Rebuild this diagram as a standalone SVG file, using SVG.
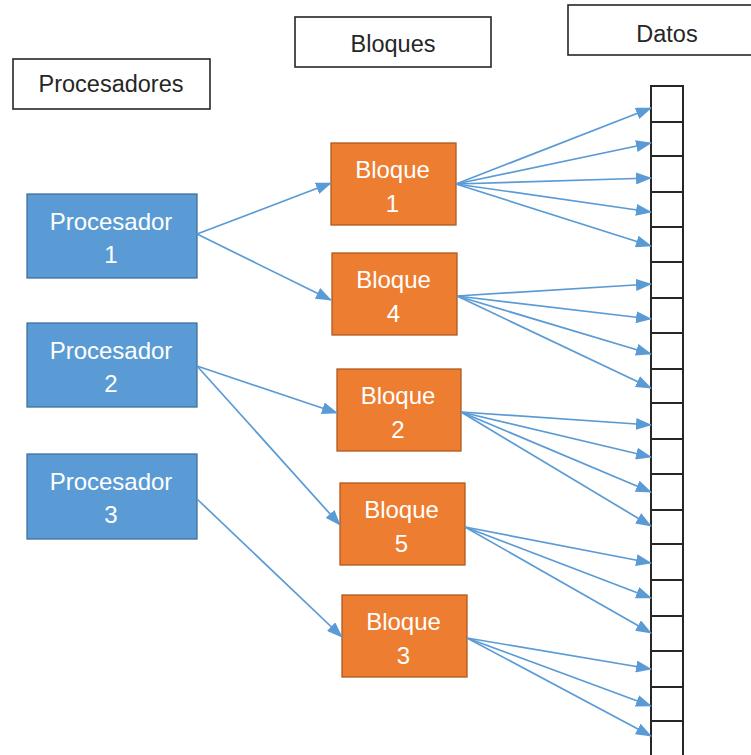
<svg xmlns="http://www.w3.org/2000/svg" width="751" height="755" viewBox="0 0 751 755">
<defs>
<style>
.hdr{fill:#fff;stroke:#262626;stroke-width:1.6}
.ht{font-family:"Liberation Sans",Arial,sans-serif;font-size:23.5px;fill:#262626;text-anchor:middle}
.proc{fill:#5B9BD5;stroke:#41719C;stroke-width:1.3}
.blk{fill:#ED7D31;stroke:#AE5A21;stroke-width:1.3}
.nt{font-family:"Liberation Sans",Arial,sans-serif;font-size:24px;fill:#fff;text-anchor:middle}
.c{stroke:#5B9BD5;stroke-width:1.7;fill:none;marker-end:url(#ah)}
.col{fill:#fff;stroke:#262626;stroke-width:2}
.cl{stroke:#262626;stroke-width:2}
</style>
<marker id="ah" viewBox="0 0 16 12" refX="15" refY="6" markerWidth="16" markerHeight="12" markerUnits="userSpaceOnUse" orient="auto">
<path d="M0,0 L16,6 L0,12 z" fill="#5B9BD5"/>
</marker>
</defs>

<g id="hdr-procesadores"><rect class="hdr" x="13" y="59" width="197" height="50"/><text class="ht" x="111" y="92">Procesadores</text></g>
<g id="hdr-bloques"><rect class="hdr" x="295" y="17" width="196" height="50"/><text class="ht" x="393" y="52">Bloques</text></g>
<g id="hdr-datos"><rect class="hdr" x="568" y="5" width="200" height="50"/><text class="ht" x="667" y="42">Datos</text></g>

<g id="datos">
<rect class="col" x="651" y="86" width="32" height="680"/>
<g class="cl">
<line x1="651" x2="683" y1="122" y2="122"/><line x1="651" x2="683" y1="156" y2="156"/>
<line x1="651" x2="683" y1="192" y2="192"/><line x1="651" x2="683" y1="227" y2="227"/>
<line x1="651" x2="683" y1="262" y2="262"/><line x1="651" x2="683" y1="298" y2="298"/>
<line x1="651" x2="683" y1="333" y2="333"/><line x1="651" x2="683" y1="369" y2="369"/>
<line x1="651" x2="683" y1="403" y2="403"/><line x1="651" x2="683" y1="439" y2="439"/>
<line x1="651" x2="683" y1="474" y2="474"/><line x1="651" x2="683" y1="510" y2="510"/>
<line x1="651" x2="683" y1="544" y2="544"/><line x1="651" x2="683" y1="580" y2="580"/>
<line x1="651" x2="683" y1="616" y2="616"/><line x1="651" x2="683" y1="651" y2="651"/>
<line x1="651" x2="683" y1="687" y2="687"/><line x1="651" x2="683" y1="721" y2="721"/>
</g>
</g>

<g id="procesador1"><rect class="proc" x="27" y="194" width="170" height="84"/><text class="nt" x="111" y="230">Procesador</text><text class="nt" x="111" y="263">1</text></g>
<g id="procesador2"><rect class="proc" x="27" y="323" width="170" height="84"/><text class="nt" x="111" y="359">Procesador</text><text class="nt" x="111" y="392">2</text></g>
<g id="procesador3"><rect class="proc" x="27" y="454" width="170" height="85"/><text class="nt" x="111" y="490">Procesador</text><text class="nt" x="111" y="523">3</text></g>

<g id="bloque1"><rect class="blk" x="331" y="143" width="125" height="82"/><text class="nt" x="392.5" y="178">Bloque</text><text class="nt" x="392.5" y="212">1</text></g>
<g id="bloque4"><rect class="blk" x="332" y="253" width="125" height="82"/><text class="nt" x="393.5" y="288">Bloque</text><text class="nt" x="393.5" y="322">4</text></g>
<g id="bloque2"><rect class="blk" x="337" y="369" width="124" height="82"/><text class="nt" x="398" y="404">Bloque</text><text class="nt" x="398" y="438">2</text></g>
<g id="bloque5"><rect class="blk" x="340" y="483" width="125" height="82"/><text class="nt" x="401.5" y="518">Bloque</text><text class="nt" x="401.5" y="552">5</text></g>
<g id="bloque3"><rect class="blk" x="342" y="595" width="125" height="82"/><text class="nt" x="403.5" y="630">Bloque</text><text class="nt" x="403.5" y="664">3</text></g>

<g id="connectors">
<line class="c" x1="197" y1="234" x2="331" y2="183"/>
<line class="c" x1="197" y1="234" x2="331" y2="300"/>
<line class="c" x1="197" y1="366" x2="337" y2="413"/>
<line class="c" x1="197" y1="366" x2="340" y2="525"/>
<line class="c" x1="197" y1="499" x2="342" y2="637"/>

<line class="c" x1="456" y1="184" x2="651" y2="108"/>
<line class="c" x1="456" y1="184" x2="651" y2="143"/>
<line class="c" x1="456" y1="184" x2="651" y2="178"/>
<line class="c" x1="456" y1="184" x2="651" y2="212"/>
<line class="c" x1="456" y1="184" x2="651" y2="246"/>

<line class="c" x1="457" y1="296" x2="651" y2="284"/>
<line class="c" x1="457" y1="296" x2="651" y2="319"/>
<line class="c" x1="457" y1="296" x2="651" y2="354"/>
<line class="c" x1="457" y1="296" x2="651" y2="388"/>

<line class="c" x1="461" y1="412" x2="651" y2="425"/>
<line class="c" x1="461" y1="412" x2="651" y2="457"/>
<line class="c" x1="461" y1="412" x2="651" y2="492"/>
<line class="c" x1="461" y1="412" x2="651" y2="526"/>

<line class="c" x1="465" y1="527" x2="651" y2="563"/>
<line class="c" x1="465" y1="527" x2="651" y2="598"/>
<line class="c" x1="465" y1="527" x2="651" y2="633"/>

<line class="c" x1="467" y1="638" x2="651" y2="669"/>
<line class="c" x1="467" y1="638" x2="651" y2="706"/>
<line class="c" x1="467" y1="638" x2="651" y2="736"/>
</g>
</svg>
